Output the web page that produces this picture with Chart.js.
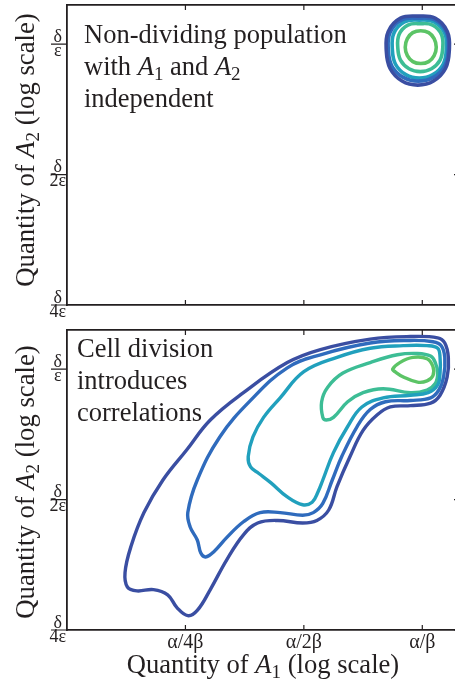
<!DOCTYPE html>
<html><head><meta charset="utf-8">
<script src="https://cdn.jsdelivr.net/npm/chart.js@4/dist/chart.umd.min.js"></script>
<style>
html,body{margin:0;padding:0;background:#fff;overflow:hidden;width:455px;height:686px;position:relative}
#c1{position:absolute;left:0;top:0}
#c2{position:absolute;left:0;top:315px}
</style></head><body>
<canvas id="c1" width="470" height="325"></canvas>
<canvas id="c2" width="470" height="371"></canvas>
<script>
// ---- axis ticks (log2 units relative to alpha/beta and delta/epsilon) ----
const xTickValues = [-2, -1, 0];
const xTickLabels = ['α/4β', 'α/2β', 'α/β'];
const yTickValues = [-2, -1, 0];
const yTickLabels = [['δ', '4ε'], ['δ', '2ε'], ['δ', 'ε']];
const contourColors = ['#3a4ea2', '#2f6bbd', '#21a0bd', '#3dbd95', '#5cc466'];

// ---- top panel: non-dividing population, contour levels (outer -> inner) ----
const topLevel1 = [[0.228,-0.050],[0.212,0.096],[0.108,0.199],[-0.038,0.215],[-0.184,0.199],[-0.288,0.096],[-0.304,-0.050],[-0.272,-0.187],[-0.171,-0.283],[-0.038,-0.314],[0.095,-0.283],[0.196,-0.187]];
const topLevel2 = [[0.219,-0.042],[0.204,0.090],[0.105,0.185],[-0.034,0.199],[-0.173,0.185],[-0.272,0.090],[-0.287,-0.042],[-0.257,-0.168],[-0.160,-0.255],[-0.034,-0.284],[0.093,-0.255],[0.189,-0.168]];
const topLevel3 = [[0.203,-0.038],[0.189,0.084],[0.100,0.171],[-0.025,0.184],[-0.151,0.171],[-0.240,0.084],[-0.253,-0.038],[-0.226,-0.154],[-0.139,-0.234],[-0.025,-0.261],[0.089,-0.234],[0.176,-0.154]];
const topLevel4 = [[0.173,-0.027],[0.162,0.074],[0.088,0.146],[-0.017,0.157],[-0.122,0.146],[-0.196,0.074],[-0.207,-0.027],[-0.184,-0.123],[-0.112,-0.189],[-0.017,-0.211],[0.078,-0.189],[0.150,-0.123]];
const topLevel5 = [[0.118,-0.023],[0.100,0.042],[0.054,0.088],[-0.013,0.103],[-0.080,0.088],[-0.126,0.042],[-0.144,-0.023],[-0.126,-0.088],[-0.080,-0.134],[-0.013,-0.149],[0.054,-0.134],[0.100,-0.088]];

// ---- bottom panel: cell division, contour levels (outer -> inner) ----
const bottomLevel1 = [[-2.19,-0.85],[-2.35,-1.10],[-2.46,-1.36],[-2.51,-1.56],[-2.49,-1.67],[-2.41,-1.70],[-2.27,-1.69],[-2.15,-1.73],[-2.07,-1.83],[-1.98,-1.89],[-1.90,-1.85],[-1.79,-1.69],[-1.65,-1.46],[-1.51,-1.27],[-1.39,-1.18],[-1.22,-1.16],[-1.01,-1.18],[-0.89,-1.16],[-0.79,-1.08],[-0.72,-0.90],[-0.61,-0.67],[-0.50,-0.47],[-0.38,-0.35],[-0.27,-0.29],[-0.10,-0.28],[0.07,-0.26],[0.15,-0.20],[0.21,-0.06],[0.22,0.09],[0.19,0.20],[0.13,0.24],[-0.10,0.25],[-0.44,0.23],[-0.86,0.15],[-1.14,0.05],[-1.51,-0.18],[-1.79,-0.39],[-1.99,-0.62]];
const bottomLevel2 = [[-1.90,-0.85],[-1.98,-1.10],[-1.96,-1.21],[-1.90,-1.31],[-1.87,-1.41],[-1.83,-1.44],[-1.76,-1.40],[-1.65,-1.29],[-1.51,-1.17],[-1.37,-1.10],[-1.20,-1.10],[-1.01,-1.12],[-0.92,-1.10],[-0.84,-1.03],[-0.76,-0.85],[-0.68,-0.67],[-0.55,-0.44],[-0.44,-0.31],[-0.31,-0.25],[-0.10,-0.24],[0.07,-0.22],[0.14,-0.16],[0.18,-0.06],[0.19,0.09],[0.16,0.18],[0.09,0.21],[-0.10,0.22],[-0.44,0.20],[-0.86,0.11],[-1.14,0.01],[-1.45,-0.24],[-1.71,-0.52]];
const bottomLevel3 = [[-1.47,-0.67],[-1.45,-0.75],[-1.38,-0.80],[-1.28,-0.87],[-1.14,-0.98],[-1.01,-1.04],[-0.93,-1.02],[-0.88,-0.94],[-0.84,-0.85],[-0.75,-0.64],[-0.63,-0.44],[-0.51,-0.29],[-0.33,-0.22],[-0.10,-0.20],[0.05,-0.18],[0.13,-0.12],[0.15,-0.03],[0.15,0.09],[0.13,0.16],[0.04,0.18],[-0.16,0.18],[-0.44,0.16],[-0.72,0.09],[-1.00,-0.02],[-1.20,-0.22],[-1.34,-0.37],[-1.43,-0.52]];
const bottomLevel4 = [[-0.84,-0.37],[-0.85,-0.25],[-0.80,-0.14],[-0.67,-0.03],[-0.44,0.05],[-0.21,0.11],[-0.04,0.12],[0.07,0.10],[0.11,0.05],[0.13,-0.03],[0.11,-0.11],[0.04,-0.16],[-0.10,-0.18],[-0.33,-0.15],[-0.50,-0.18],[-0.63,-0.25],[-0.75,-0.37],[-0.81,-0.39]];
const bottomLevel5 = [[-0.25,0.00],[-0.19,0.05],[-0.08,0.09],[0.04,0.08],[0.09,0.02],[0.09,-0.05],[0.04,-0.09],[-0.04,-0.10],[-0.16,-0.06],[-0.23,-0.02]];

// ---- texts ----
const topNote = [[['Non-dividing population','r']], [['with ','r'],['A','i'],['1','s'],[' and ','r'],['A','i'],['2','s']], [['independent','r']]];
const bottomNote = [[['Cell division','r']], [['introduces','r']], [['correlations','r']]];
const yTitle = [['Quantity of ','r'],['A','i'],['2','s'],[' (log scale)','r']];
const xTitle = [['Quantity of ','r'],['A','i'],['1','s'],[' (log scale)','r']];

const serif = "'Liberation Serif', 'Times New Roman', serif";
const ink = '#231f20';

function richText(ctx, x, y, runs, size, align) {
  const fontFor = k => k === 'i' ? `italic ${size}px ${serif}` : (k === 's' ? `${Math.round(size * 0.7)}px ${serif}` : `${size}px ${serif}`);
  let w = 0;
  runs.forEach(([t, k]) => { ctx.font = fontFor(k); w += ctx.measureText(t).width; });
  let cx = align === 'center' ? x - w / 2 : x;
  ctx.textAlign = 'left';
  ctx.textBaseline = 'alphabetic';
  runs.forEach(([t, k]) => {
    ctx.font = fontFor(k);
    ctx.fillText(t, cx, y + (k === 's' ? size * 0.2 : 0));
    cx += ctx.measureText(t).width;
  });
}

const loopPlugin = {
  id: 'closedLoops',
  beforeDatasetsDraw(chart) {
    chart.data.datasets.forEach((d, i) => {
      const line = chart.getDatasetMeta(i).dataset;
      if (line) {
        line._loop = true; line._fullLoop = true; line._pointsUpdated = false;
        delete line._segments; delete line._path;
      }
    });
  }
};

function decorPlugin(cfg) {
  return {
    id: 'decor',
    afterDraw(chart) {
      const ctx = chart.ctx, a = chart.chartArea;
      const sx = chart.scales.x, sy = chart.scales.y;
      ctx.save();
      ctx.strokeStyle = ink; ctx.lineWidth = 1.2;
      ctx.beginPath();
      xTickValues.forEach(v => {
        const px = sx.getPixelForValue(v);
        ctx.moveTo(px, a.bottom); ctx.lineTo(px, a.bottom - 5);
        ctx.moveTo(px, a.top); ctx.lineTo(px, a.top + 5);
      });
      yTickValues.forEach(v => {
        const py = sy.getPixelForValue(v);
        ctx.moveTo(a.right, py); ctx.lineTo(a.right - 5, py);
        // fraction bar of the tick label
        ctx.moveTo(51, py); ctx.lineTo(a.left, py);
      });
      ctx.stroke();
      ctx.fillStyle = ink;
      cfg.note.forEach((line, i) => richText(ctx, cfg.noteX, cfg.noteY + i * cfg.noteGap, line, 26.5, 'left'));
      ctx.save();
      ctx.translate(cfg.yTitleX, (a.top + a.bottom) / 2 + cfg.yTitleShift);
      ctx.rotate(-Math.PI / 2);
      richText(ctx, 0, 0, yTitle, 26.7, 'center');
      ctx.restore();
      if (cfg.showXTitle) richText(ctx, (a.left + a.right) / 2, cfg.xTitleY, xTitle, 26.6, 'center');
      ctx.restore();
    }
  };
}

function buildChart(id, levels, cfg) {
  const datasets = levels.map((pts, i) => ({
    data: pts.map(p => ({x: p[0], y: p[1]})),
    borderColor: contourColors[i], borderWidth: cfg.lineWidth,
    pointRadius: 0, pointHoverRadius: 0, tension: 0.4, fill: false
  }));
  const setX = s => { s.ticks = xTickValues.map(v => ({value: v})); };
  const setY = s => { s.ticks = yTickValues.map(v => ({value: v})); };
  const border = {display: true, color: ink, width: 1.8};
  const noGrid = {display: false, drawTicks: false, drawOnChartArea: false};
  const fitY = w => s => { s.width = w; s.paddingTop = 0; s.paddingBottom = 0; };
  return new Chart(document.getElementById(id), {
    type: 'line',
    data: {datasets},
    options: {
      responsive: false, animation: false, devicePixelRatio: 1, events: [],
      layout: {padding: 0},
      plugins: {legend: {display: false}, tooltip: {enabled: false}},
      scales: {
        x: {type: 'linear', position: 'bottom', min: -3, max: 0.31, afterBuildTicks: setX,
            afterFit: s => { s.height = cfg.bottomH; }, grid: noGrid, border,
            ticks: {display: cfg.showXTicks, padding: 1, color: ink, maxRotation: 0, autoSkip: false,
                    font: {family: serif, size: 20},
                    callback: v => xTickLabels[xTickValues.indexOf(v)]}},
        xTop: {type: 'linear', axis: 'x', position: 'top', min: -3, max: 0.31, afterBuildTicks: setX,
            afterFit: s => { s.height = cfg.topH; }, grid: noGrid, border, ticks: {display: false}},
        y: {type: 'linear', position: 'left', min: -2, max: 0.3, afterBuildTicks: setY,
            afterFit: fitY(67), grid: noGrid, border,
            ticks: {padding: 1, crossAlign: 'center', color: ink,
                    font: {family: serif, size: 18, lineHeight: 0.78},
                    callback: v => yTickLabels[yTickValues.indexOf(v)]}},
        yRight: {type: 'linear', axis: 'y', position: 'right', min: -2, max: 0.3, afterBuildTicks: setY,
            afterFit: fitY(11), grid: noGrid, border, ticks: {display: false}}
      }
    },
    plugins: [loopPlugin, decorPlugin(cfg)]
  });
}

buildChart('c1', [topLevel1, topLevel2, topLevel3, topLevel4, topLevel5], {
  lineWidth: 3.6, topH: 5, bottomH: 20, showXTicks: false,
  note: topNote, noteX: 84, noteY: 43, noteGap: 32,
  yTitleX: 34, yTitleShift: -5, showXTitle: false
});
buildChart('c2', [bottomLevel1, bottomLevel2, bottomLevel3, bottomLevel4, bottomLevel5], {
  lineWidth: 3.4, topH: 15, bottomH: 56, showXTicks: true,
  note: bottomNote, noteX: 77, noteY: 42.3, noteGap: 32,
  yTitleX: 34, yTitleShift: 2, showXTitle: true, xTitleY: 358
});
</script>
</body></html>
